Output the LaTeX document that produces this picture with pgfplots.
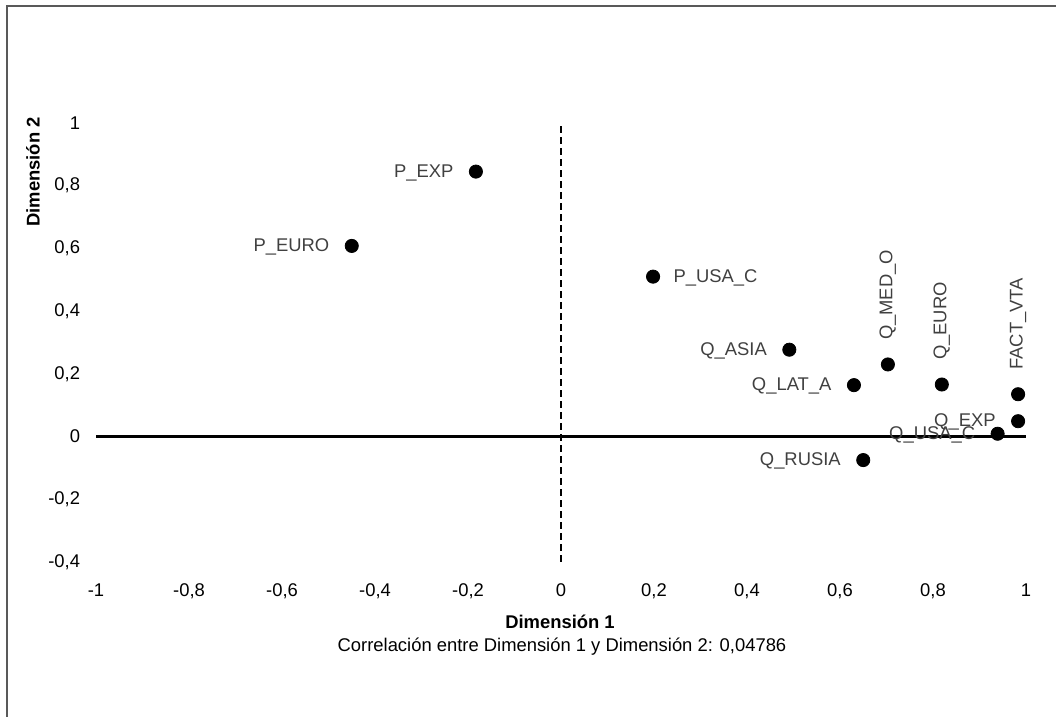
\documentclass[border=0pt]{standalone}
\usepackage{pgfplots}
\pgfplotsset{compat=1.18}
\usepackage{fontspec}
\setmainfont{Liberation Sans}
\definecolor{lbl}{HTML}{404040}
\definecolor{frame}{HTML}{595959}
\begin{document}
\fontsize{9.2pt}{11pt}\selectfont
\begin{tikzpicture}[font=\fontsize{9.2pt}{11pt}\selectfont]
\path[use as bounding box] (0,0) rectangle (528pt,358.5pt);
\draw[frame, line width=0.7pt] (3.5pt,-1pt) -- (3.5pt,355.5pt) -- (530pt,355.5pt);
\begin{axis}[
  at={(48pt,77.5pt)}, anchor=south west,
  scale only axis, width=465pt, height=219.5pt,
  xmin=-1, xmax=1, ymin=-0.4, ymax=1,
  axis line style={draw=none},
  major tick length=0pt,
  xtick={-1,-0.8,-0.6,-0.4,-0.2,0,0.2,0.4,0.6,0.8,1},
  xticklabels={-1,{-0,8},{-0,6},{-0,4},{-0,2},0,{0,2},{0,4},{0,6},{0,8},1},
  ytick={-0.4,-0.2,0,0.2,0.4,0.6,0.8,1},
  yticklabels={{-0,4},{-0,2},0,{0,2},{0,4},{0,6},{0,8},1},
  xticklabel style={yshift=-7.5pt, text=black},
  yticklabel style={xshift=-4.7pt, text=black},
  clip=false,
  point meta=explicit symbolic,
  every node near coord/.append style={text=lbl, font=\fontsize{9.2pt}{11pt}\selectfont},
]
\addplot[black, line width=1.4pt, no marks] coordinates {(-1,0) (1,0)};
\addplot[black, line width=1pt, dash pattern=on 3.5pt off 2pt, no marks] coordinates {(0,-0.4) (0,1)};
% labels to the left
\addplot[only marks, mark=*, mark size=3.3pt, black,
  nodes near coords,
  nodes near coords style={anchor=east, xshift=-8pt, yshift=-0.6pt}]
  table[meta=label] {
x y label
-0.183 0.845 P\_EXP
-0.450 0.608 P\_EURO
0.491 0.277 Q\_ASIA
0.630 0.164 Q\_LAT\_A
0.650 -0.075 Q\_RUSIA
0.983 0.049 Q\_EXP
0.939 0.009 Q\_USA\_C
};
% label to the right
\addplot[only marks, mark=*, mark size=3.3pt, black,
  nodes near coords,
  nodes near coords style={anchor=west, xshift=7pt, yshift=-0.6pt}]
  table[meta=label] {
x y label
0.198 0.510 P\_USA\_C
};
% rotated labels above
\addplot[only marks, mark=*, mark size=3.3pt, black,
  nodes near coords,
  nodes near coords style={anchor=west, rotate=90, yshift=0pt, xshift=9pt}]
  table[meta=label] {
x y label
0.703 0.230 Q\_MED\_O
0.819 0.166 Q\_EURO
0.983 0.135 FACT\_VTA
};
\end{axis}
\node[rotate=90, font=\fontsize{9.2pt}{11pt}\selectfont\bfseries] at (16.5pt,272.5pt) {Dimensión 2};
\node[font=\fontsize{9.2pt}{11pt}\selectfont\bfseries] at (280pt,47.5pt) {Dimensión 1};
\node at (281pt,35pt) {Correlación entre Dimensión 1 y Dimensión 2: 0,04786};
\end{tikzpicture}
\end{document}
